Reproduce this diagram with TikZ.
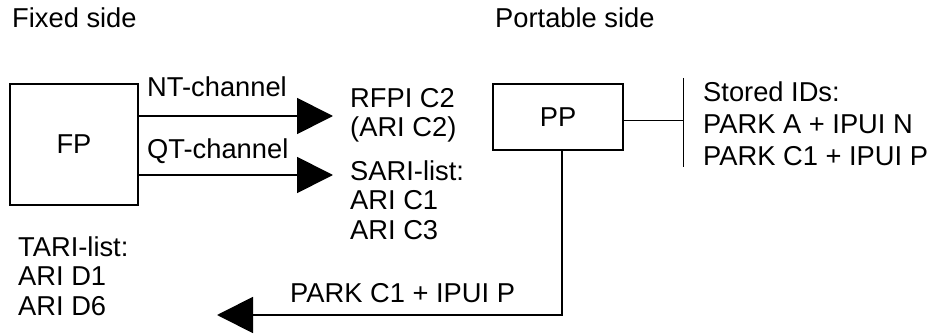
\documentclass[tikz,border=0pt]{standalone}
\usepackage{fontspec}
\setmainfont{Liberation Sans}
\usetikzlibrary{arrows.meta, positioning}

\begin{document}
\begin{tikzpicture}[
    x=1pt, y=-1pt,
    every node/.style={font=\fontsize{27.3}{29.5}\selectfont, inner sep=0pt},
    unitbox/.style={draw, line width=1.8pt, minimum width=128pt, minimum height=121pt},
    txt/.style={anchor=base west, align=left},
    arr/.style={-{Triangle[length=36pt, width=36pt]}, line width=1.8pt},
    thinline/.style={line width=1pt},
]
    \useasboundingbox (0,0) rectangle (937,334);

    % Sides
    \node[txt] (fixed) at (12, 28) {Fixed side};
    \node[txt] (portable) at (495, 28) {Portable side};

    % Units
    \node[unitbox] (fp) at (74, 144.5) {FP};
    \node[unitbox, minimum width=130pt, minimum height=66pt] (pp) at (558, 117) {PP};

    % Channels
    \coordinate (ntend) at (333, 116);
    \coordinate (qtend) at (333, 175);
    \draw[arr] (fp.east |- ntend) -- (ntend);
    \draw[arr] (fp.east |- qtend) -- (qtend);
    \node[txt] (ntlabel) at (147, 97) {NT-channel};
    \node[txt] (qtlabel) at (147, 158) {QT-channel};

    % Broadcast identities (base = last line)
    \node[txt] (rfpi) at (350, 137) {RFPI C2\\(ARI C2)};
    \node[txt] (sari) at (350, 239) {SARI-list:\\ARI C1\\ARI C3};
    \node[txt] (tari) at (18, 315) {TARI-list:\\ARI D1\\ARI D6};

    % Stored IDs
    \coordinate (idtop) at (683, 78);
    \coordinate (idmid) at (683, 121);
    \coordinate (idbot) at (683, 167);
    \draw[thinline] (pp.east |- idmid) -- (idmid);
    \draw[thinline] (idtop) -- (idbot);
    \node[txt, font=\fontsize{27.3}{32}\selectfont] (ids) at (703, 165)
        {Stored IDs:\\PARK A + IPUI N\\PARK C1 + IPUI P};

    % Access request
    \coordinate (corner) at (562, 315);
    \coordinate (reqend) at (217, 315);
    \draw[arr] (pp.south -| corner) -- (corner) -- (reqend);
    \node[txt] (req) at (290, 302) {PARK C1 + IPUI P};
\end{tikzpicture}
\end{document}
